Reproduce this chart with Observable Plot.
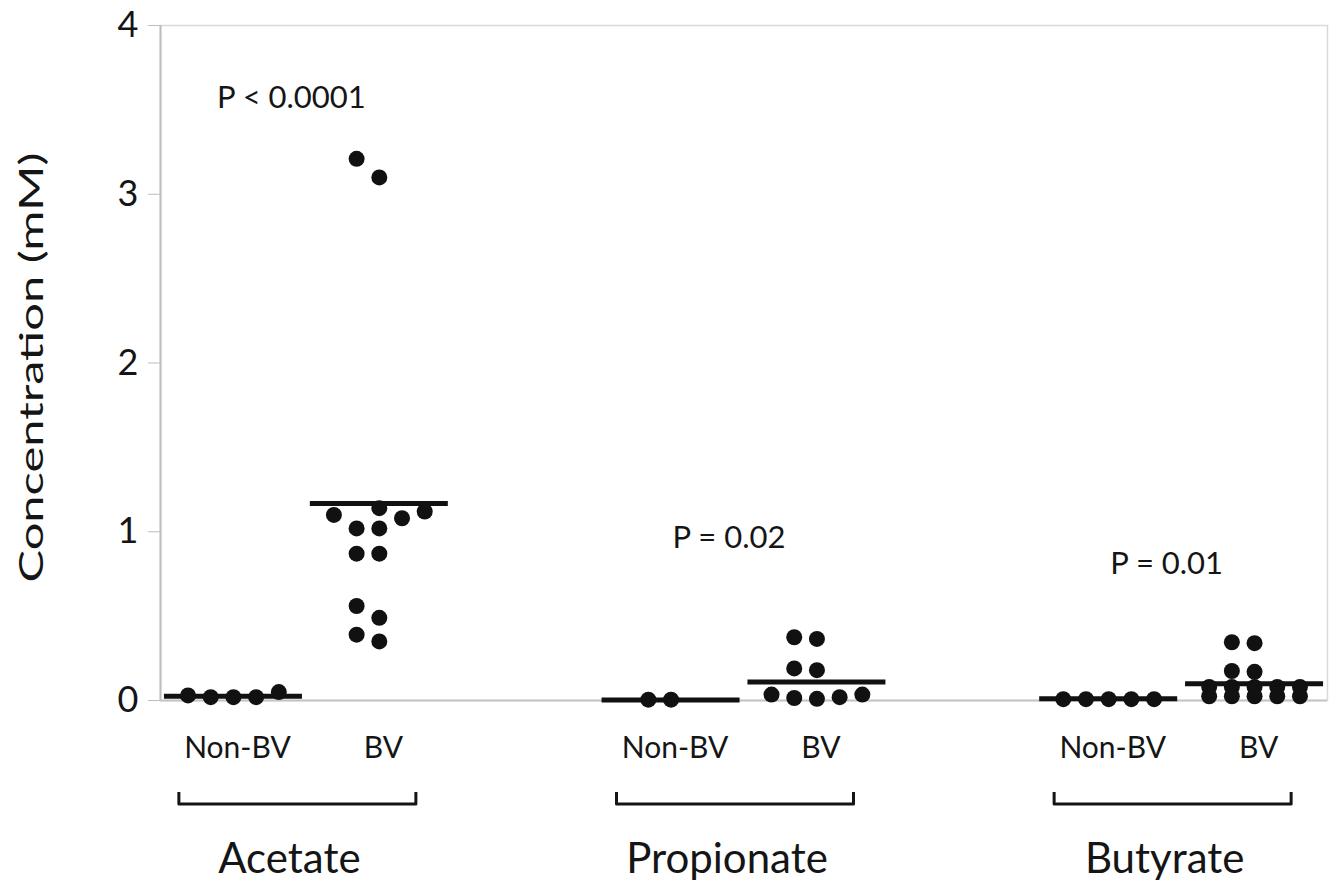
<!DOCTYPE html>
<html>
<head>
<meta charset="utf-8">
<script src="https://cdn.jsdelivr.net/npm/d3@7"></script>
<script src="https://cdn.jsdelivr.net/npm/@observablehq/plot@0.6"></script>
<style>
  html, body { margin: 0; padding: 0; background: #fff; }
  #chart { width: 1336px; height: 886px; }
</style>
</head>
<body>
<div id="chart"></div>
<script>
// ---------- data ----------
const substances = ["Acetate", "Propionate", "Butyrate"];
const groups = ["Non-BV", "BV"];
const yTicks = [0, 1, 2, 3, 4];
const yLabel = "Concentration (mM)";

const acetateNonBV    = [0.02, 0.03, 0.02, 0.05, 0.02];
const acetateBV       = [3.21, 3.10, 1.14, 1.12, 1.10, 1.08, 1.02, 1.02, 0.87, 0.87, 0.56, 0.49, 0.39, 0.35];
const propionateNonBV = [0.005, 0.005];
const propionateBV    = [0.375, 0.365, 0.19, 0.18, 0.035, 0.035, 0.02, 0.015, 0.01];
const butyrateNonBV   = [0.008, 0.008, 0.008, 0.008, 0.008];
const butyrateBV      = [0.345, 0.34, 0.175, 0.17, 0.08, 0.08, 0.08, 0.08, 0.08, 0.025, 0.025, 0.025, 0.025, 0.025];

// mean bars as drawn in the figure (substance order, Non-BV then BV)
const meanNonBV = [0.025, 0.003, 0.01];
const meanBV    = [1.167, 0.109, 0.099];

const pValueLabels = ["P < 0.0001", "P = 0.02", "P = 0.01"];
const pValueLevels = [3.57, 0.96, 0.81];

// ---------- layout constants ----------
const W = 1336, H = 886;
const mL = 160, mR = 9, mT = 25, mB = 186;
const xDomain = [-0.5, 7.5];
const yDomain = [0, 4];
const stepPx = (W - mL - mR) / (xDomain[1] - xDomain[0]);
const pxPerUnit = (H - mT - mB) / (yDomain[1] - yDomain[0]);
const dotR = 8;
const colStepPx = 22.7;
const rowThresholdPx = 21;
const maxPerRow = 5;
const meanHalfPx = 69;

const slot = (i, j) => 3 * i + j;             // position index of a group on x
const groupMid = (i) => 3 * i + 0.5;

const seriesValues = [
  [acetateNonBV, acetateBV],
  [propionateNonBV, propionateBV],
  [butyrateNonBV, butyrateBV]
];
const meanValues = [meanNonBV, meanBV];

// Prism-like scatter layout: rows of close values spread into columns
function columnLayout(vals) {
  const T = rowThresholdPx / pxPerUnit;
  const D = (2 * dotR) / pxPerUnit;
  const sorted = vals.map((v, k) => ({v, k})).sort((a, b) => a.v - b.v);
  const rows = [];
  for (const p of sorted) {
    const row = rows[rows.length - 1];
    if (row && row.length < maxPerRow && p.v - row[0].v < T) row.push(p);
    else rows.push([p]);
  }
  const order = [0, -1, 1, -2, 2];
  const placed = [];
  const cols = new Array(vals.length);
  for (const row of rows) {
    const base = order.slice(0, row.length);
    let best = null, bestScore = -1;
    for (const s of [0, -1, 1, -2, 2, -3, 3, -4, 4]) {
      const cs = base.map(c => c + s);
      if (cs.some(c => Math.abs(c) > 2)) continue;
      let score = Infinity;
      row.forEach((p, i) => {
        for (const q of placed) if (q.col === cs[i]) score = Math.min(score, Math.abs(q.v - p.v));
      });
      score = Math.min(score, D);
      if (score > bestScore + 1e-9) { bestScore = score; best = cs; }
    }
    row.forEach((p, i) => { cols[p.k] = best[i]; placed.push({v: p.v, col: best[i]}); });
  }
  return cols;
}

const points = [];
const means = [];
substances.forEach((s, i) => {
  groups.forEach((g, j) => {
    const vals = seriesValues[i][j];
    const cols = columnLayout(vals);
    vals.forEach((v, k) => points.push({substance: s, group: g, value: v, x: slot(i, j) + cols[k] * colStepPx / stepPx}));
    means.push({substance: s, group: g, pos: slot(i, j), mean: meanValues[j][i]});
  });
});

const groupLabels = [];
substances.forEach((s, i) => groups.forEach((g, j) => groupLabels.push({label: g, pos: slot(i, j)})));
const substanceLabels = substances.map((s, i) => ({label: s, pos: groupMid(i)}));
const pLabels = substances.map((s, i) => ({label: pValueLabels[i], pos: groupMid(i), level: pValueLevels[i]}));

// brackets under each substance pair, drawn with the x scale
function brackets(index, scales, values, dimensions) {
  const bottom = dimensions.height - dimensions.marginBottom;
  const g = d3.create("svg:g")
    .attr("fill", "none").attr("stroke", "#151515").attr("stroke-width", 3)
    .attr("stroke-linejoin", "round");
  substances.forEach((s, i) => {
    const mid = scales.x(groupMid(i));
    const x1 = mid - 127, x2 = mid + 110;
    const top = bottom + 92, base = bottom + 104;
    g.append("path").attr("d", `M${x1},${top}V${base}H${x2}V${top}`);
  });
  return g.node();
}

// rotated y-axis title, stretched along its length like the original
function yTitle(index, scales, values, dimensions) {
  const cy = (dimensions.marginTop + dimensions.height - dimensions.marginBottom) / 2 + 5;
  const cx = dimensions.marginLeft - 125;
  const g = d3.create("svg:g").attr("transform", `translate(${cx},${cy}) rotate(-90)`);
  g.append("text")
    .attr("text-anchor", "middle")
    .attr("dominant-baseline", "middle")
    .attr("font-size", 33)
    .attr("fill", "#151515")
    .attr("textLength", 430)
    .attr("lengthAdjust", "spacingAndGlyphs")
    .text(yLabel);
  return g.node();
}

const chart = Plot.plot({
  width: W, height: H,
  marginLeft: mL, marginRight: mR, marginTop: mT, marginBottom: mB,
  style: {fontFamily: "Lato, 'Open Sans', sans-serif", color: "#151515", background: "#fff", overflow: "visible"},
  x: {domain: xDomain, axis: null},
  y: {domain: yDomain},
  marks: [
    Plot.frame({stroke: "#d9d9d9", strokeWidth: 1.5}),
    Plot.ruleX([xDomain[0]], {stroke: "#bdbdbd", strokeWidth: 2}),
    Plot.ruleY([yDomain[0]], {stroke: "#c4c4c4", strokeWidth: 2}),
    Plot.axisY({ticks: yTicks, tickSize: 12, tickPadding: 10, fontSize: 36, stroke: "#bdbdbd", fill: "#151515", label: null, tickFormat: d => String(d)}),
    yTitle,
    Plot.dot(points, {x: "x", y: "value", r: dotR, fill: "#111", stroke: "none"}),
    Plot.ruleY(means, {y: "mean", x1: d => d.pos - meanHalfPx / stepPx, x2: d => d.pos + meanHalfPx / stepPx, stroke: "#111", strokeWidth: 5}),
    Plot.text(pLabels, {x: "pos", y: "level", text: "label", dx: -15, fontSize: 31, fill: "#151515"}),
    Plot.text(groupLabels, {x: "pos", text: "label", frameAnchor: "bottom", dy: 57, dx: 4, fontSize: 30, fill: "#151515"}),
    brackets,
    Plot.text(substanceLabels, {x: "pos", text: "label", frameAnchor: "bottom", dy: 172, dx: -17, fontSize: 42, fill: "#151515"})
  ]
});
document.getElementById("chart").appendChild(chart);
</script>
</body>
</html>
